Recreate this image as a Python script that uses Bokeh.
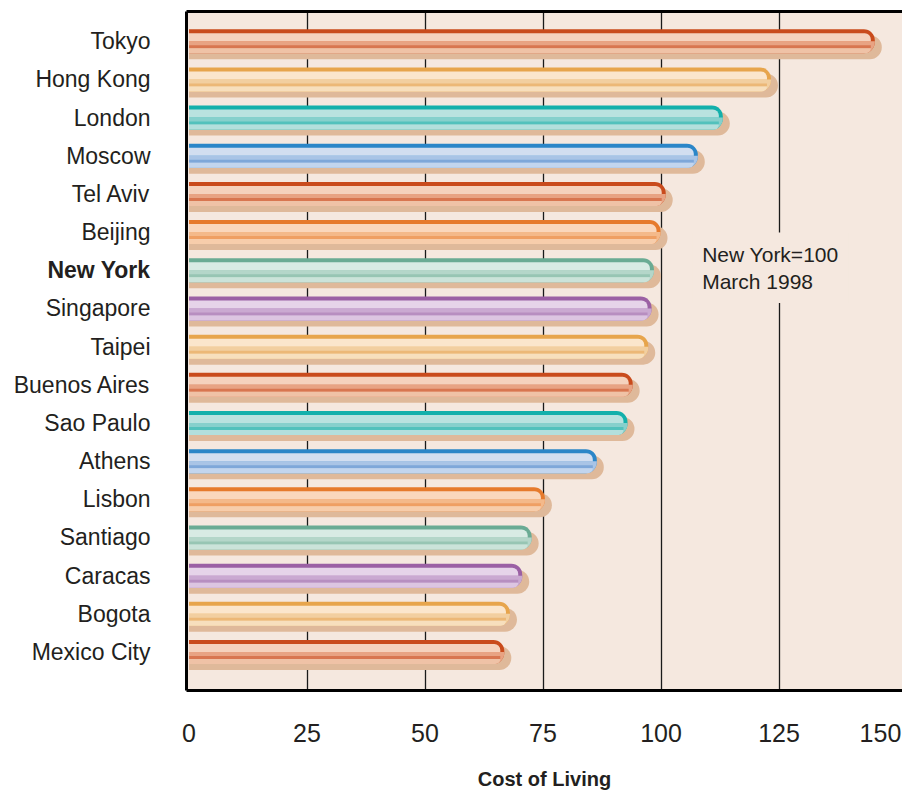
from bokeh.plotting import figure
from bokeh.models import ColumnDataSource, FixedTicker, LinearAxis, Label, Range1d
from bokeh.layouts import row
from bokeh.transform import dodge
from bokeh.core.properties import value
from bokeh.embed import file_html
from bokeh.resources import INLINE

# ---------------- data ----------------
cities = ["Tokyo", "Hong Kong", "London", "Moscow", "Tel Aviv", "Beijing",
          "New York", "Singapore", "Taipei", "Buenos Aires", "Sao Paulo",
          "Athens", "Lisbon", "Santiago", "Caracas", "Bogota", "Mexico City"]
cost = [145.3, 123.3, 113.1, 107.8, 101.0, 99.9, 98.5, 98.0, 97.3, 94.0,
        92.9, 86.4, 75.4, 72.6, 70.6, 68.0, 66.8]
x_ticks = [0, 25, 50, 75, 100, 125, 150]
highlight = "New York"
note_lines = ["New York=100", "March 1998"]
note_x = 106.6
x_title = "Cost of Living"

# ---------------- styles ----------------
family = ["red", "gold", "teal", "blue", "red", "orange", "green", "purple",
          "gold", "red", "teal", "blue", "orange", "green", "purple", "gold", "red"]
palette = {  # stroke, light, mid, band, bottom
    "red":    ("#c94b1c", "#f5d2bd", "#e8a383", "#d87650", "#efc2a6"),
    "gold":   ("#e7a54c", "#fbe6cc", "#f2cfa0", "#ecb877", "#f7dfbd"),
    "teal":   ("#13b0ab", "#b9e2df", "#86d0cc", "#52c1bc", "#b3dfdc"),
    "blue":   ("#2b86c8", "#d2def0", "#a9c4e6", "#7ea7d9", "#c2d5ee"),
    "orange": ("#e67a2c", "#fad7bc", "#f4b98a", "#ef9f63", "#f7cdab"),
    "green":  ("#6aab94", "#d8ebe4", "#b4d6c9", "#97c5b3", "#cbe3d9"),
    "purple": ("#9b60a4", "#e6d4e9", "#caa9d1", "#b78ec0", "#dcc5e1"),
}
BG = "#f5e8df"
SHADOW = "#dfb99a"
TXT = "#231f20"
FONT = "Liberation Sans"

W, H = 902, 793
LABEL_W = 180          # width of the city-label strip
MAIN_W = W - LABEL_W
LEFT_M = 6             # main figure border left of the frame
TOP, BOTTOM = 11, 103
PX_X = 4.72            # pixels per cost unit
PX_Y = 38.17           # pixels per row
BAR_PX = 24
LABEL_RIGHT = 150      # right edge of city labels (px within strip)

n = len(cities)
ys = [n - 1 - i for i in range(n)]

x_start = -2.5 / PX_X
x_end = x_start + (MAIN_W - LEFT_M) / PX_X
y_top = n - 1 + 0.78
y_bot = y_top - (H - TOP - BOTTOM) / PX_Y
y_range = Range1d(y_bot, y_top)

src = ColumnDataSource(dict(
    y=ys, cost=cost, city=cities,
    style=["bold" if c == highlight else "normal" for c in cities],
    c=[palette[f][0] for f in family],
    l1=[palette[f][1] for f in family],
    l2=[palette[f][2] for f in family],
    l3=[palette[f][3] for f in family],
    l4=[palette[f][4] for f in family],
))

# ---------------- label strip ----------------
lab = figure(width=LABEL_W, height=H, output_backend="svg", toolbar_location=None,
             x_range=Range1d(0, LABEL_W), y_range=y_range,
             x_axis_type=None, y_axis_type=None,
             min_border_left=0, min_border_right=0, min_border_top=TOP,
             min_border_bottom=BOTTOM, outline_line_color=None,
             background_fill_color="white", border_fill_color="white")
lab.grid.visible = False
lab.text(x=LABEL_RIGHT, y="y", text="city", source=src, text_font=value(FONT),
         text_font_style="style", text_font_size="23px", text_color=TXT,
         text_align="right", text_baseline="middle")

# ---------------- main chart ----------------
p = figure(width=MAIN_W, height=H, output_backend="svg", toolbar_location=None,
           x_range=Range1d(x_start, x_end), y_range=y_range,
           min_border_left=LEFT_M, min_border_right=0, min_border_top=TOP,
           min_border_bottom=BOTTOM, background_fill_color=BG,
           border_fill_color="white", outline_line_color=None)


def band(t, b):
    return dodge("y", (BAR_PX / 2 - (t + b) / 2) / PX_Y), (b - t) / PX_Y


# shadows
p.hbar(y=dodge("y", -6 / PX_Y), height=BAR_PX / PX_Y, left=0,
       right=dodge("cost", 7 / PX_X), source=src, fill_color=SHADOW,
       line_color=None, border_radius=(0, 12, 12, 0))
# outer bar (stroke colour)
p.hbar(y="y", height=BAR_PX / PX_Y, left=0, right="cost", source=src,
       fill_color="c", line_color=None, border_radius=(0, 11, 11, 0))
# lower half of the outer bar
yy, hh = band(12, 24)
p.hbar(y=yy, height=hh, left=0, right="cost", source=src, fill_color="l2",
       line_color=None, border_radius=(0, 0, 11, 0))
inner_r = dodge("cost", -4 / PX_X)
yy, hh = band(4, 12)
p.hbar(y=yy, height=hh, left=0, right=inner_r, source=src, fill_color="l1",
       line_color=None, border_radius=(0, 6, 0, 0))
yy, hh = band(12, 16)
p.hbar(y=yy, height=hh, left=0, right=inner_r, source=src, fill_color="l2",
       line_color=None)
yy, hh = band(16, 19)
p.hbar(y=yy, height=hh, left=0, right=inner_r, source=src, fill_color="l3",
       line_color=None)
yy, hh = band(19, 24)
p.hbar(y=yy, height=hh, left=0, right=inner_r, source=src, fill_color="l4",
       line_color=None, border_radius=(0, 0, 8, 0))

# grid
p.ygrid.grid_line_color = None
p.xgrid.ticker = FixedTicker(ticks=x_ticks[1:-1])
p.xgrid.grid_line_color = "#1a1a1a"
p.xgrid.grid_line_width = 1.3

# x axis (bottom border + labels); last label kept inside the window
last_pos = round(min(x_ticks[-1], x_end - 22 / PX_X), 1)
tick_pos = x_ticks[:-1] + [last_pos]
xa = p.xaxis[0]
xa.ticker = FixedTicker(ticks=tick_pos)
xa.major_label_overrides = {last_pos: str(x_ticks[-1])}
xa.axis_line_color = "black"
xa.axis_line_width = 3
xa.major_tick_line_color = None
xa.minor_tick_line_color = None
xa.major_tick_out = 0
xa.major_tick_in = 0
xa.major_label_standoff = 33
xa.major_label_text_font = FONT
xa.major_label_text_font_size = "25px"
xa.major_label_text_color = TXT
xa.axis_label = x_title
xa.axis_label_text_font = FONT
xa.axis_label_text_font_style = "bold"
xa.axis_label_text_font_size = "20px"
xa.axis_label_text_color = TXT
xa.axis_label_standoff = 23

# y axis: left border only
ya = p.yaxis[0]
ya.ticker = FixedTicker(ticks=[])
ya.axis_line_color = "black"
ya.axis_line_width = 3
ya.major_tick_line_color = None
ya.minor_tick_line_color = None
ya.major_tick_out = 0
ya.major_tick_in = 0
ya.major_label_standoff = 0
ya.major_label_text_font_size = "0px"

# top border
top_axis = LinearAxis(ticker=FixedTicker(ticks=[]), axis_line_color="black",
                      axis_line_width=3, major_tick_line_color=None,
                      minor_tick_line_color=None, major_tick_out=0,
                      major_tick_in=0, major_label_standoff=0,
                      major_label_text_font_size="0px")
p.add_layout(top_axis, "above")

# note
p.add_layout(Label(x=note_x, y=ys[cities.index(highlight)] + 0.99,
                   text="\n".join(note_lines), text_font=FONT,
                   text_font_size="21px", text_color=TXT, text_align="left",
                   text_baseline="top", text_line_height=1.2,
                   background_fill_color=BG, padding=10))

layout = row(lab, p, spacing=0)
open("out.html", "w").write(file_html(layout, INLINE))
